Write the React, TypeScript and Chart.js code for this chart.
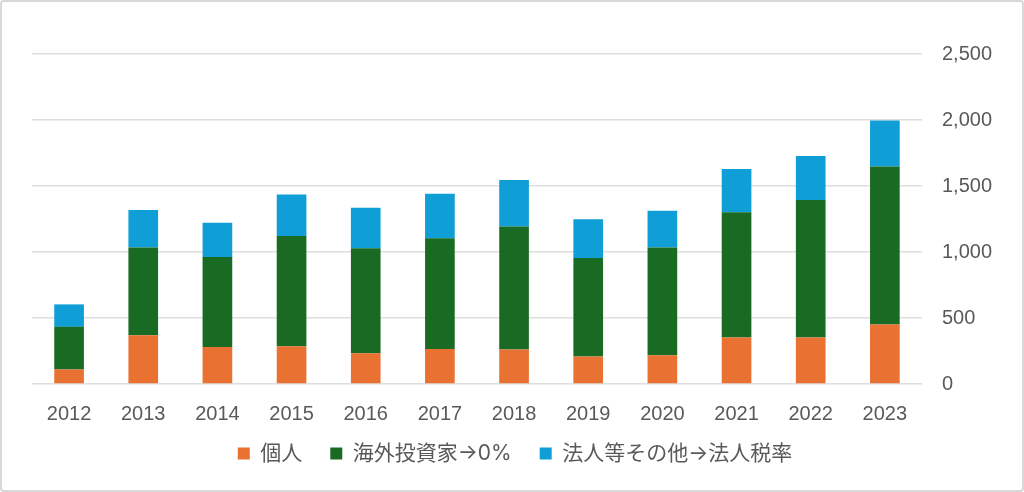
import React, { useEffect, useRef } from "react";
import { Chart, registerables } from "chart.js";

Chart.register(...registerables);

const categories = ["2012", "2013", "2014", "2015", "2016", "2017", "2018", "2019", "2020", "2021", "2022", "2023"];
const individual = [110, 370, 281, 286, 233, 266, 261, 208, 218, 352, 352, 451];
const foreignInvestors = [323, 664, 682, 836, 796, 839, 932, 747, 816, 950, 1041, 1196];
const corporateOther = [170, 284, 258, 314, 306, 337, 353, 294, 278, 327, 335, 349];
const seriesNames = ["個人", "海外投資家→0%", "法人等その他→法人税率"];
const yTicks = [0, 500, 1000, 1500, 2000, 2500];

const FONT = "'Liberation Sans', 'Noto Sans CJK JP', sans-serif";
const LEGEND_FONT = "'Inter', 'Noto Sans CJK JP', sans-serif";

export default function App() {
  const ref = useRef<HTMLCanvasElement | null>(null);
  useEffect(() => {
    if (!ref.current) return;
    const chart = new Chart(ref.current, {
      type: "bar",
      data: {
        labels: categories,
        datasets: [
          { label: seriesNames[0], data: individual, backgroundColor: "#E97132" },
          { label: seriesNames[1], data: foreignInvestors, backgroundColor: "#196B24" },
          { label: seriesNames[2], data: corporateOther, backgroundColor: "#0F9ED5" },
        ].map((d) => ({ ...d, categoryPercentage: 1, barPercentage: 0.4, borderWidth: 0 })),
      },
      options: {
        animation: false,
        responsive: true,
        maintainAspectRatio: false,
        layout: { padding: { left: 30, right: 24, top: 52, bottom: 16 } },
        plugins: {
          tooltip: { enabled: false },
          legend: {
            position: "bottom",
            labels: {
              boxWidth: 12,
              boxHeight: 12,
              padding: 28,
              color: "#595959",
              font: { family: LEGEND_FONT, size: 21 },
            },
          },
        },
        scales: {
          x: {
            stacked: true,
            grid: { display: false },
            border: { display: false },
            ticks: { color: "#595959", font: { family: FONT, size: 20 }, padding: 10 },
            afterFit: (scale: any) => {
              scale.height = 31;
              scale._computeLabelArea = () => undefined;
            },
          },
          y: {
            stacked: true,
            position: "right",
            min: 0,
            max: 2500,
            afterBuildTicks: (scale: any) => {
              scale.ticks = yTicks.map((v) => ({ value: v }));
            },
            afterFit: (scale: any) => {
              scale.width = scale.width - 14;
              scale._computeLabelArea = () => undefined;
            },
            grid: { color: "#dedede", lineWidth: 1.5, drawTicks: false },
            border: { display: false },
            ticks: {
              color: "#595959",
              padding: 20,
              font: { family: FONT, size: 20 },
              callback: (v: any) => Number(v).toLocaleString("en-US"),
            },
          },
        },
      },
    } as any);
    return () => chart.destroy();
  }, []);
  return (
    <div
      style={{
        position: "fixed",
        left: 0,
        top: 0,
        width: 1024,
        height: 492,
        boxSizing: "border-box",
        border: "2px solid #d9d9d9",
        borderRadius: 4,
        background: "#fff",
      }}
    >
      <canvas ref={ref} style={{ width: "100%", height: "100%" }} />
    </div>
  );
}
